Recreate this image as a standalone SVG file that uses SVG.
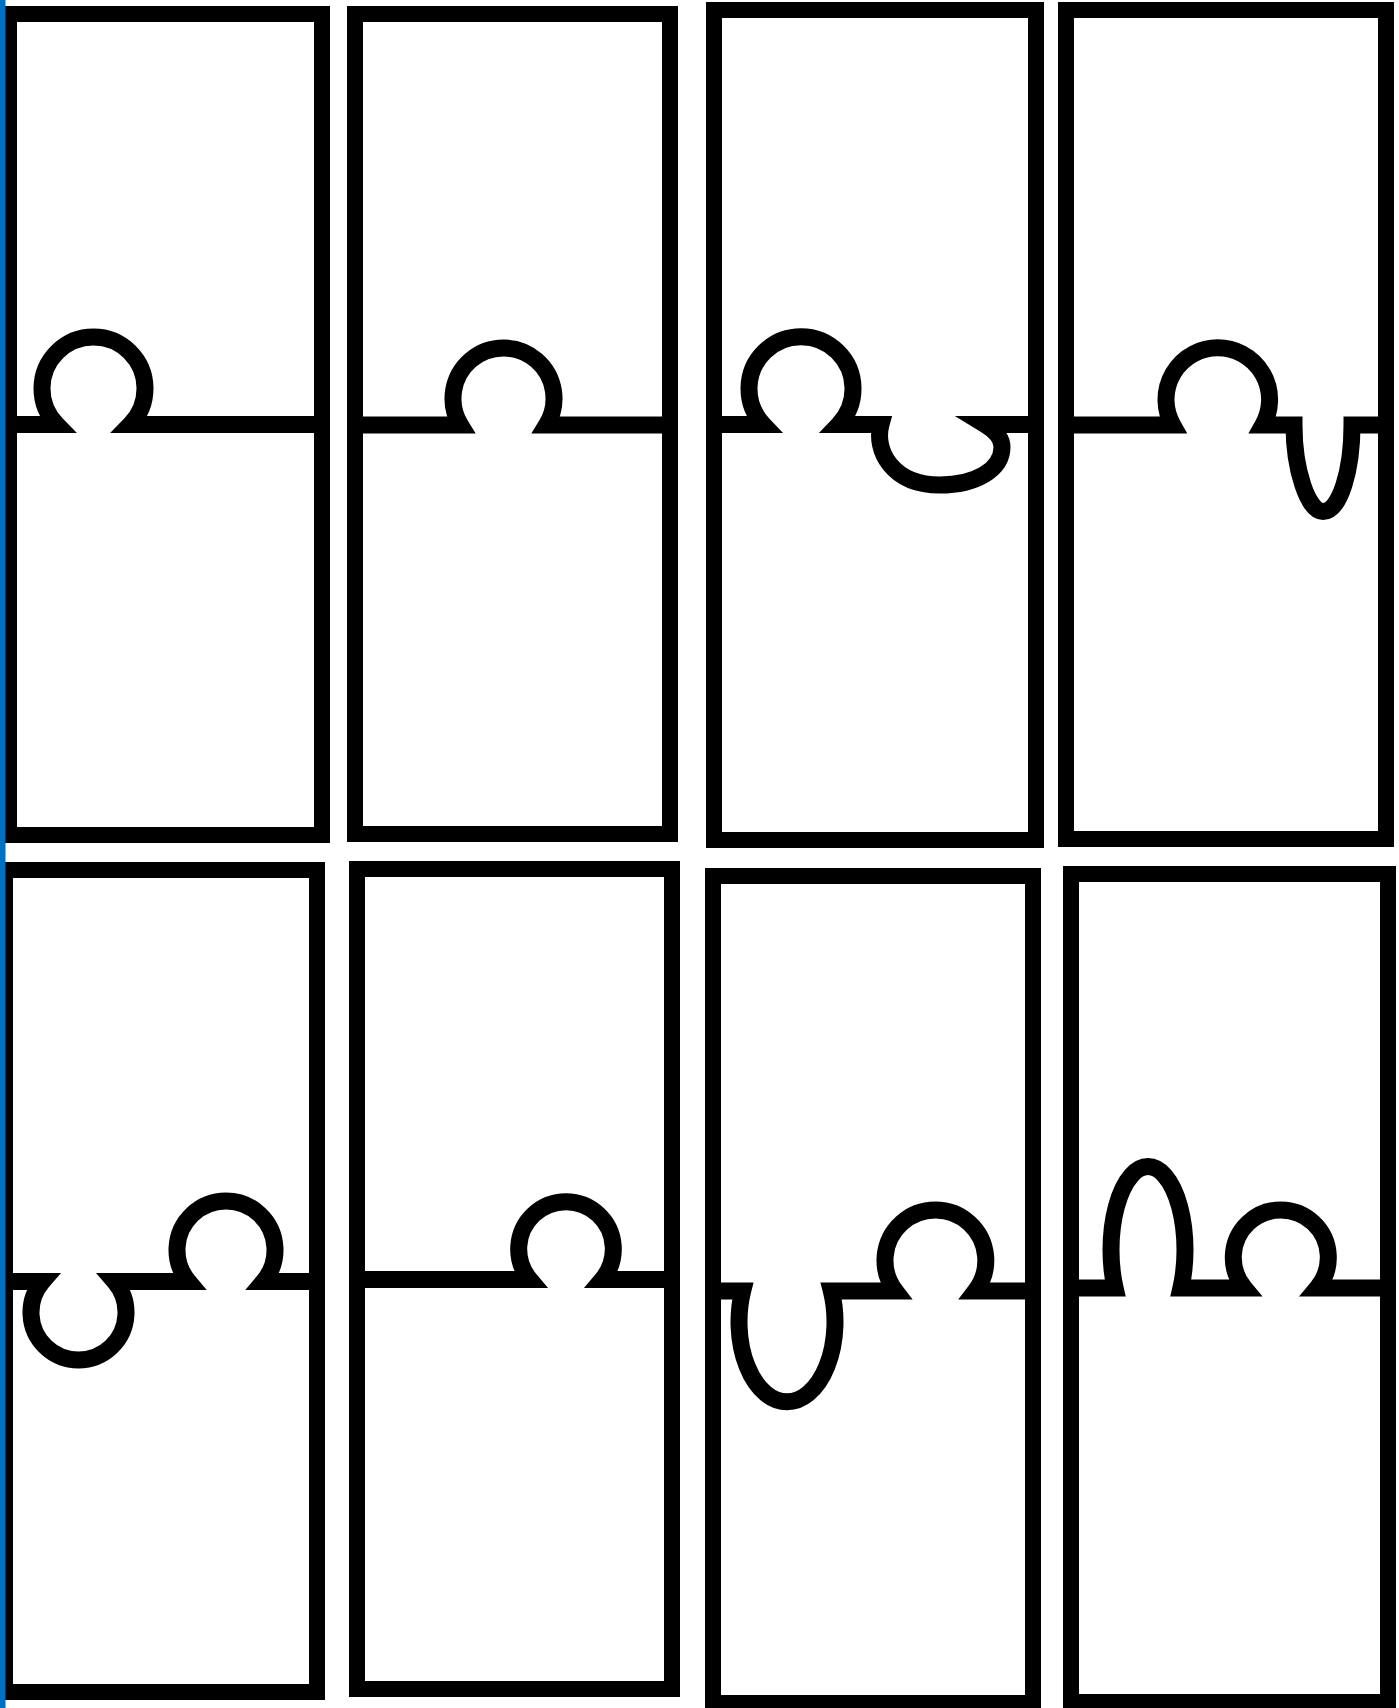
<svg xmlns="http://www.w3.org/2000/svg" width="1399" height="1708" viewBox="0 0 1399 1708">
<style>
.frame{fill:none;stroke:#000;stroke-width:16}
.cut{fill:none;stroke:#000;stroke-width:17;stroke-linejoin:miter;stroke-miterlimit:10}
</style>
<rect width="1399" height="1708" fill="#fff"/>
<g id="panel1">
<rect class="frame" x="9" y="14" width="313" height="821"/>
<path class="cut" d="M9 424.5 H56.7 A51.5 51.5 0 1 1 130.3 424.5 H322"/>
</g>
<g id="panel2">
<rect class="frame" x="355" y="14" width="315" height="820"/>
<path class="cut" d="M355 425 H460.5 A50.5 50.5 0 1 1 546.5 425 H670"/>
</g>
<g id="panel3">
<rect class="frame" x="714" y="10" width="322" height="830"/>
<path class="cut" d="M714 424.5 H763.3 A52 52 0 1 1 838.7 424.5 H881 C874 450 892 485 940 485 C975 485 1002 470 1002 447 C1002 437 994 430 985 424.5 H1036"/>
</g>
<g id="panel4">
<rect class="frame" x="1066" y="10" width="320" height="829"/>
<path class="cut" d="M1066 425 H1172.7 A51.8 51.8 0 1 1 1262.9 425 H1294 C1294 470 1308 511.5 1323 511.5 C1340 511.5 1352 470 1352 425 H1386"/>
</g>
<g id="panel5">
<rect class="frame" x="5" y="870" width="312" height="822"/>
<path class="cut" d="M5 1281.5 H42.5 A47.5 47.5 0 1 0 114.5 1281.5 H188.5 A49 49 0 1 1 263.5 1281.5 H317"/>
</g>
<g id="panel6">
<rect class="frame" x="357" y="869" width="315" height="820"/>
<path class="cut" d="M357 1279.5 H529.8 A47.3 47.3 0 1 1 602.2 1279.5 H672"/>
</g>
<g id="panel7">
<rect class="frame" x="713" y="876" width="320" height="827"/>
<path class="cut" d="M713 1291 H742.7 A48 80 0 1 0 831.3 1291 H895.4 A50.4 50.4 0 1 1 975.4 1291 H1033"/>
</g>
<g id="panel8">
<rect class="frame" x="1071" y="874" width="317" height="828"/>
<path class="cut" d="M1071 1288 H1115.1 A37 83.3 0 1 1 1180.9 1288 H1244.4 A47.5 47.5 0 1 1 1317.2 1288 H1388"/>
</g>
<rect id="edge" x="0" y="0" width="5.5" height="1708" fill="#0070c0"/>
</svg>
